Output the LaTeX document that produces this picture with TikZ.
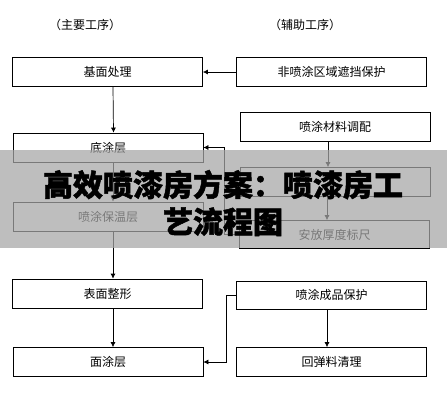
\documentclass[tikz,border=0pt]{standalone}
\usepackage{fontspec}
\newfontfamily\cjk{Noto Sans CJK SC}
\newfontfamily\cjkheavy{Noto Sans CJK SC}[BoldFeatures={FakeBold=1.6}]
\usetikzlibrary{arrows.meta}

\begin{document}
\begin{tikzpicture}[x=1pt,y=-1pt,
  box/.style={draw,line width=0.7pt,minimum width=190pt,minimum height=29pt,inner sep=0pt,font=\cjk\fontsize{12}{14}\selectfont},
  arr/.style={line width=0.7pt,-{Latex[length=5pt,width=5pt]}},
  head/.style={font=\cjk\fontsize{12}{14}\selectfont}]
\fill[white] (0,0) rectangle (447,400);
% column heads
\node[head] (hmain) at (85,25) {（主要工序）};
\node[head] (haux) at (305,25) {（辅助工序）};
% main steps
\node[box] (jm) at (107.5,72) {基面处理};
\node[box] (dt) at (108,147.5) {底涂层};
\node[box] (bw) at (108,216.5) {喷涂保温层};
\node[box] (bm) at (107.5,293.5) {表面整形};
\node[box] (mt) at (108,362) {面涂层};
% auxiliary steps
\node[box] (fp) at (331.5,72) {非喷涂区域遮挡保护};
\node[box] (tl) at (335,126.5) {喷涂材料调配};
\node[box] (hp) at (335,182) {};
\node[box,minimum height=28pt] (ab) at (334.5,234.5) {安放厚度标尺};
\node[box,minimum height=28pt] (cp) at (331.5,295) {喷涂成品保护};
\node[box] (ht) at (331.5,362) {回弹料清理};
% connectors
\draw[arr] (fp) -- (jm);
\draw[arr] ([xshift=5.5pt]jm.south) -- ([xshift=5.5pt]dt.north);
\draw[arr] ([xshift=5pt]dt.south) -- ([xshift=5pt]bw.north);
\draw[arr] ([xshift=5pt]bw.south) -- ([xshift=5.5pt]bm.north);
\draw[arr] ([xshift=5.5pt]bm.south) -- ([xshift=5pt]mt.north);
\draw[arr] ([xshift=-7pt]tl.south) -- ([xshift=-7pt]hp.north);
\draw[arr] ([xshift=-8pt]hp.south) -- ([xshift=-7.5pt]ab.north);
\draw[arr] ([xshift=-4.5pt]cp.south) -- ([xshift=-4.5pt]ht.north);
\draw[arr] (ab.west) -- ++(-15,0) |- (dt.east);
\draw[arr] (cp.west) -- ++(-10,0) |- (mt.east);
% banner
\fill[black!35,opacity=0.73] (0,150) rectangle (447,248);
\node[font=\cjkheavy\bfseries\fontsize{30}{37}\selectfont,align=center] (ttl) at (223,203) {高效喷漆房方案：喷漆房工\\艺流程图};
\end{tikzpicture}
\end{document}
